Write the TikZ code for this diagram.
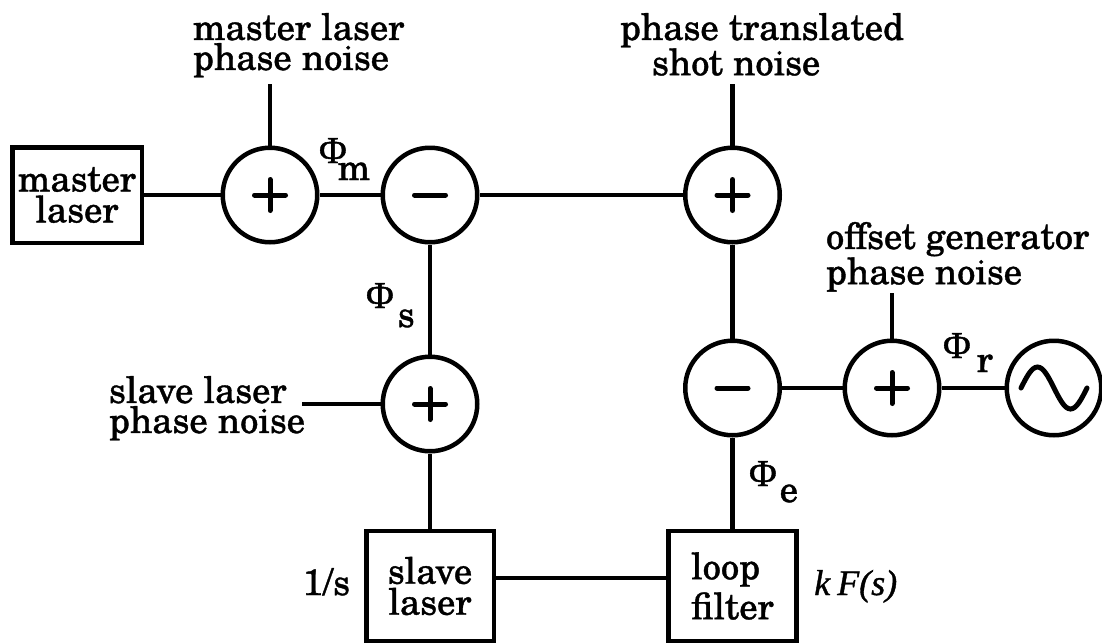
\documentclass[tikz,border=0pt]{standalone}
\usepackage{fontspec}
\setmainfont{texgyreschola}[Extension=.otf, UprightFont=*-regular, ItalicFont=*-italic, BoldFont=*-bold, BoldItalicFont=*-bolditalic, FakeBold=1]
\newfontfamily\timesf{Liberation Serif}[FakeBold=1]
\newcommand\phisub[3]{{\timesf\fontsize{38}{38}\selectfont Φ}\hspace{#1}\raisebox{#2}{#3}}
\begin{document}
\begin{tikzpicture}[x=1pt,y=-1pt, line width=4.5pt,
  txt/.style={font=\fontsize{36.5}{30}\selectfont, inner sep=0pt, outer sep=0pt},
  blk/.style={draw, line width=4.5pt, minimum width=129.5pt, minimum height=95.5pt, inner sep=0pt, align=center, font=\fontsize{36.5}{31}\selectfont},
  sumnode/.style={circle, draw, line width=4.5pt, minimum size=94.5pt, inner sep=0pt},
  plussign/.style={sumnode, path picture={
    \draw[line width=5pt, line cap=round]
      ([xshift=-15.5pt]path picture bounding box.center) -- ([xshift=15.5pt]path picture bounding box.center)
      ([yshift=-15.5pt]path picture bounding box.center) -- ([yshift=15.5pt]path picture bounding box.center);}},
  minussign/.style={sumnode, path picture={
    \draw[line width=5pt, line cap=round]
      ([xshift=-15.5pt]path picture bounding box.center) -- ([xshift=15.5pt]path picture bounding box.center);}}
]
\useasboundingbox (0,0) rectangle (1102,643);

% blocks
\node[blk] (mbox) at (77,195) {master\\laser};
\node[blk, minimum height=110pt, minimum width=127.5pt] (sbox) at (430,586) {slave\\laser};
\node[blk, minimum height=110pt, minimum width=128pt, align=left, font=\fontsize{36.5}{40}\selectfont] (lbox) at (732.5,586) {loop\\filter};

% summing junctions
\node[plussign]  (p1) at (270,195) {};
\node[minussign] (m1) at (430,195) {};
\node[plussign]  (p2) at (732.5,195) {};
\node[plussign]  (p3) at (430,404) {};
\node[minussign] (m2) at (732.5,388) {};
\node[plussign]  (p4) at (892,388) {};
\node[sumnode]   (osc) at (1054,388) {};
\draw[line width=5pt, line cap=round] ([xshift=-33pt]osc.center)
  sin ++(16.5pt,21pt) cos ++(16.5pt,-21pt) sin ++(16.5pt,-21pt) cos ++(16.5pt,21pt);

% noise inputs
\coordinate (t1) at (270,84);
\coordinate (t2) at (732.5,84);
\coordinate (t3) at (302,404);
\coordinate (t4) at (892,293);

% connectors
\draw (mbox) -- (p1);
\draw (p1) -- (m1);
\draw (m1) -- (p2);
\draw (p2) -- (m2);
\draw (m1) -- (p3);
\draw (p3) -- (sbox);
\draw ([yshift=8pt]sbox.east) -- ([yshift=8pt]lbox.west);
\draw (lbox) -- (m2);
\draw (m2) -- (p4);
\draw (p4) -- (osc);
\draw (t1) -- (p1);
\draw (t2) -- (p2);
\draw (t3) -- (p3);
\draw (t4) -- (p4);

% labels
\node[txt, anchor=north west, align=left] (lm) at (193,13) {master laser\\phase noise};
\node[txt, anchor=north west, align=left] (ls) at (620,13) {phase translated\\\hspace*{32pt}shot noise};
\node[txt, anchor=north west, align=left] (lo) at (826,222) {offset generator\\phase noise};
\node[txt, anchor=north west, align=left] (lsl) at (109,376) {slave laser\\phase noise};

\node[txt, anchor=base west] (phim) at (319,163) {\phisub{-9pt}{-17pt}{m}};
\node[txt, anchor=base west] (phis) at (366,308) {\phisub{4pt}{-19pt}{s}};
\node[txt, anchor=base west] (phir) at (943,358) {\phisub{6pt}{-14pt}{r}};
\node[txt, anchor=base west] (phie) at (749,486) {\phisub{3pt}{-16pt}{e}};

\node[txt, anchor=base east] (inv) at (350,595) {1/s};
\node[anchor=base west, inner sep=0pt, font=\timesf\itshape\fontsize{36}{36}\selectfont] (kf) at (812,595) {k\hspace{7pt}F(s)};
\end{tikzpicture}
\end{document}
